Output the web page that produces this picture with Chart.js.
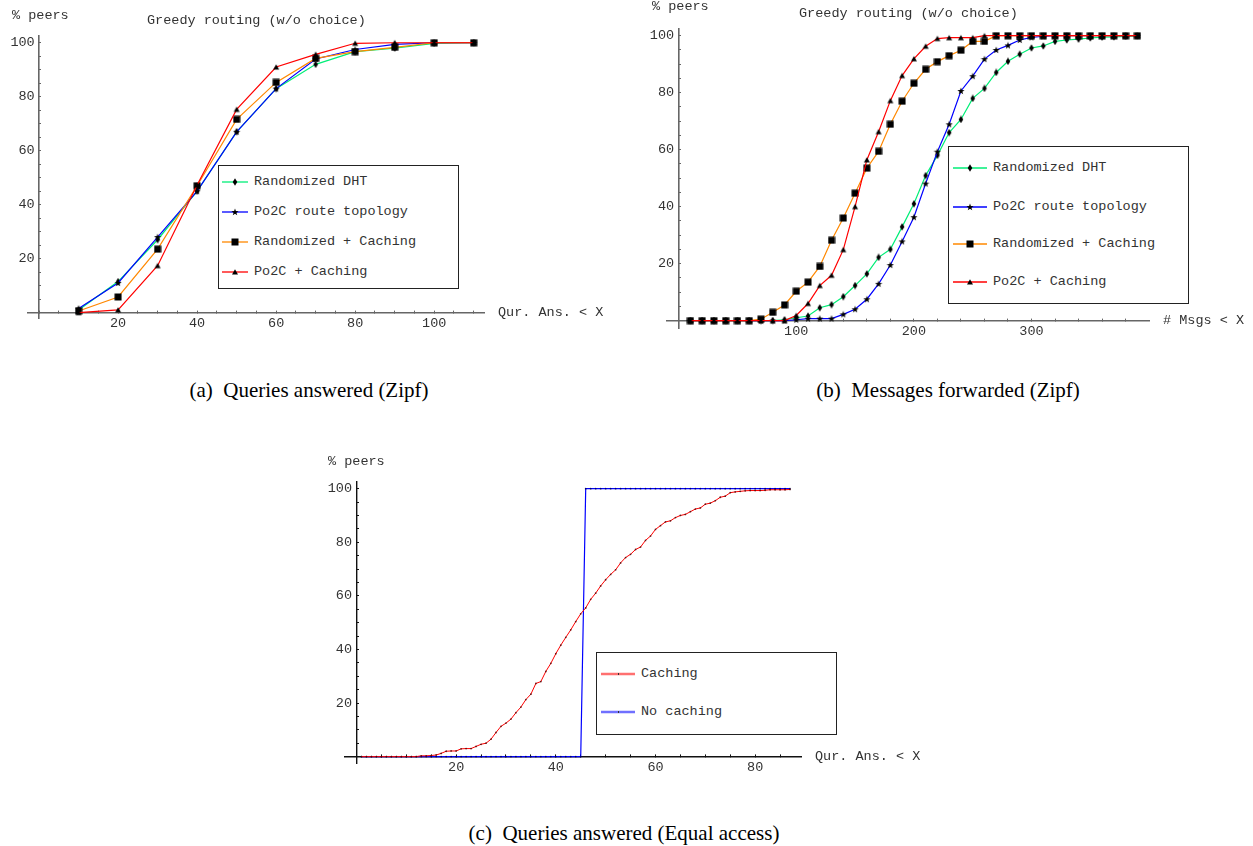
<!DOCTYPE html>
<html>
<head>
<meta charset="utf-8">
<script src="https://cdn.jsdelivr.net/npm/chart.js@4.4.1/dist/chart.umd.min.js"></script>
<style>
  body { margin: 0; background: #fff; width: 1253px; height: 846px; position: relative; overflow: hidden; }
  canvas.plot { position: absolute; }
  .t { position: absolute; font: 13.5px "Liberation Mono", monospace; color: #333; white-space: pre; line-height: 1; transform: translateY(-50%); }
  .cap { position: absolute; font: 21px "Liberation Serif", serif; color: #000; white-space: pre; line-height: 1; transform: translate(-50%, -50%); }
  .lg { position: absolute; border: 1px solid #222; background: #fff; box-sizing: border-box; }
  .lg canvas { position: absolute; }
</style>
</head>
<body>
<canvas id="chartA" class="plot" width="626" height="345" style="left:0;top:0"></canvas>
<canvas id="chartB" class="plot" width="623" height="345" style="left:630px;top:0"></canvas>
<canvas id="chartC" class="plot" width="620" height="330" style="left:320px;top:450px"></canvas>
<script>
// (a) queries answered, Zipf
const xA = [10, 20, 30, 40, 50, 60, 70, 80, 90, 100, 110];
const dhtA = [1, 11.5, 27, 45, 67, 83, 92, 96.7, 98, 99.8, 100];
const po2cA = [1.5, 11, 28, 45, 67, 83, 94, 97.5, 99.4, 100, 100];
const randCacheA = [0.6, 5.8, 23.5, 47, 71.6, 85.3, 94.2, 96.7, 98.3, 100, 100];
const po2cCacheA = [0, 1, 17.4, 47.3, 75.3, 91, 95.7, 99.8, 100, 100, 100];

// (b) messages forwarded, Zipf
const xB = [10, 20, 30, 40, 50, 60, 70, 80, 90, 100, 110, 120, 130, 140, 150, 160, 170, 180, 190, 200,
  210, 220, 230, 240, 250, 260, 270, 280, 290, 300, 310, 320, 330, 340, 350, 360, 370, 380, 390];
const dhtB = [0, 0, 0, 0, 0, 0, 0, 0, 0.3, 1, 1.6, 4.5, 5.6, 8.4, 12.3, 16.4, 22.2, 25, 32.9, 41,
  50.9, 58, 66, 70.6, 78, 81.5, 87.1, 91, 93.5, 95.7, 96.4, 98, 98.5, 98.8, 99.2, 99.5, 99.6, 99.8, 99.9];
const po2cB = [0, 0, 0, 0, 0, 0, 0, 0, 0, 0.3, 0.7, 0.7, 0.7, 2.2, 4, 7.5, 12.9, 19.5, 27.8, 36.3,
  48.1, 59.3, 68.9, 80.6, 85.8, 91.8, 95, 96.6, 98.5, 99.4, 99.8, 100, 100, 100, 100, 100, 100, 100, 100];
const randCacheB = [0, 0, 0, 0, 0, 0, 0.5, 2.9, 5.5, 10.3, 13.5, 19, 28.2, 36, 44.7, 53.5, 59.4, 68.9, 77, 83.3,
  88.2, 90.9, 93, 94.9, 98, 98, 100, 100, 100, 100, 100, 100, 100, 100, 100, 100, 100, 100, 100];
const po2cCacheB = [0, 0, 0, 0, 0, 0, 0, 0, 0, 1.8, 6, 12.3, 15.9, 24.9, 40, 56.4, 66.3, 77.2, 86, 91.9,
  96.3, 99, 99.3, 99.3, 99.3, 100, 100, 100, 100, 100, 100, 100, 100, 100, 100, 100, 100, 100, 100];

// (c) queries answered, equal access
const xC = Array.from({length: 87}, (_, i) => i + 1);
const cachingC = [0, 0, 0, 0, 0, 0, 0, 0, 0, 0, 0, 0,
  0.3, 0.3, 0.4, 0.6, 1.2, 2.0, 2.1, 2.1, 2.9, 3.0, 3.0, 3.8, 4.6, 5.0, 6.5, 9.0, 11.3, 12.5,
  14.0, 16.4, 18.5, 21.3, 23.3, 27.3, 28.0, 31.8, 34.8, 38.4, 41.6, 44.5, 47.3, 50.4, 53.3,
  55.5, 58.7, 61.0, 63.7, 66.0, 68.0, 69.7, 72.3, 74.3, 75.5, 77.3, 78.2, 80.7, 82.3, 84.8,
  86.2, 87.6, 88.0, 89.2, 90.0, 90.4, 91.4, 92.4, 92.8, 94.2, 94.6, 95.5, 96.8, 97.2, 98.5,
  98.8, 99.0, 99.2, 99.3, 99.3, 99.3, 99.4, 99.6, 99.6, 99.6, 99.6, 99.7];
const noCachingC = xC.map(x => (x <= 45 ? 0 : 100));

const names = ['Randomized DHT', 'Po2C route topology', 'Randomized + Caching', 'Po2C + Caching'];
const colors = ['#00ee77', '#0000ff', '#ff8800', '#ff0000'];
const kinds = ['diamond', 'star', 'square', 'triangle'];

function marker(kind) {
  const c = document.createElement('canvas');
  c.width = 8; c.height = 8;
  const g = c.getContext('2d');
  g.fillStyle = '#000';
  g.beginPath();
  if (kind === 'diamond') {
    g.moveTo(4, 0.3); g.lineTo(6.3, 4); g.lineTo(4, 7.7); g.lineTo(1.7, 4);
  } else if (kind === 'square') {
    g.rect(0.5, 0.5, 7, 7);
  } else if (kind === 'triangle') {
    g.moveTo(4, 1.2); g.lineTo(7, 6.5); g.lineTo(1, 6.5);
  } else {
    for (let i = 0; i < 10; i++) {
      const a = -Math.PI / 2 + i * Math.PI / 5;
      const r = i % 2 ? 1.5 : 3.8;
      g.lineTo(4 + r * Math.cos(a), 4.3 + r * Math.sin(a));
    }
  }
  g.closePath();
  g.fill();
  return c;
}
const marks = {};
kinds.forEach(k => { marks[k] = marker(k); });

const tickFont = {family: '"Liberation Mono", monospace', size: 13.5};

function axes(o) {
  const grid = {drawOnChartArea: false, tickLength: -3, tickColor: o.axisColor, tickWidth: 1};
  return {
    x: {
      type: 'linear', min: o.xMin, max: o.xMax, position: {y: 0},
      border: {color: o.axisColor, width: o.axisWidth},
      grid: grid,
      ticks: {
        stepSize: o.xStep, includeBounds: false, autoSkip: false, maxRotation: 0, maxTicksLimit: 500,
        padding: 6, color: '#333', font: tickFont,
        callback: v => (v !== 0 && v % o.xLabel === 0 ? String(v) : '')
      }
    },
    y: {
      type: 'linear', min: o.yMin, max: o.yMax, position: {x: 0},
      border: {color: o.axisColor, width: o.axisWidth},
      grid: grid,
      ticks: {stepSize: 5, includeBounds: false, autoSkip: false, maxTicksLimit: 500, callback: () => ''}
    },
    yl: {
      type: 'linear', min: o.yMin, max: o.yMax, position: {x: o.gap},
      border: {display: false},
      grid: {display: false},
      ticks: {
        stepSize: 20, includeBounds: false, autoSkip: false, color: '#333', font: tickFont,
        callback: v => (v > 0 ? String(v) : '')
      }
    }
  };
}

function routingSets(xs, series) {
  return series.map((ys, i) => ({
    label: names[i],
    data: xs.map((x, j) => ({x: x, y: ys[j]})),
    borderColor: colors[i],
    borderWidth: 1.2,
    pointStyle: marks[kinds[i]],
    pointRadius: 3,
    order: 3 - i
  }));
}

function plot(id, datasets, pad, o) {
  return new Chart(document.getElementById(id), {
    type: 'line',
    data: {datasets: datasets},
    options: {
      responsive: false, animation: false, devicePixelRatio: 1,
      layout: {padding: pad},
      plugins: {legend: {display: false}, tooltip: {enabled: false}},
      elements: {line: {tension: 0}},
      scales: axes(o)
    }
  });
}

plot('chartA', routingSets(xA, [dhtA, po2cA, randCacheA, po2cCacheA]),
  {left: 28, right: 142, top: 36, bottom: 27},
  {xMin: -2.8, xMax: 112.6, xStep: 5, xLabel: 20, yMin: -2, yMax: 102.5, gap: -1.1, axisColor: '#666', axisWidth: 1.6});

plot('chartB', routingSets(xB, [dhtB, po2cB, randCacheB, po2cCacheB]),
  {left: 37, right: 104, top: 28.3, bottom: 17},
  {xMin: -9.9, xMax: 399.9, xStep: 20, xLabel: 100, yMin: -2.6, yMax: 102.6, gap: -3.8, axisColor: '#666', axisWidth: 1.6});

plot('chartC', [
  {label: 'Caching', data: xC.map((x, j) => ({x: x, y: cachingC[j]})), borderColor: '#ff0000', borderWidth: 1,
    pointRadius: 0.9, pointBackgroundColor: 'rgba(70,0,0,0.8)', pointBorderWidth: 0},
  {label: 'No caching', data: xC.map((x, j) => ({x: x, y: noCachingC[j]})), borderColor: '#0000ff', borderWidth: 1.2,
    pointRadius: 0.9, pointBackgroundColor: 'rgba(0,0,70,0.8)', pointBorderWidth: 0}
], {left: 25, right: 139, top: 31.7, bottom: 16.7},
  {xMin: -2.3, xMax: 89.2, xStep: 5, xLabel: 20, yMin: -2.5, yMax: 102.6, gap: -0.9, axisColor: '#111', axisWidth: 1.4});

// text labels
function txt(s, x, y, cls) {
  const d = document.createElement('div');
  d.className = cls || 't';
  d.textContent = s;
  d.style.left = x + 'px';
  d.style.top = y + 'px';
  document.body.appendChild(d);
  return d;
}
txt('% peers', 12, 16);
txt('Greedy routing (w/o choice)', 147, 21);
txt('Qur. Ans. < X', 498, 313);
txt('% peers', 652, 7);
txt('Greedy routing (w/o choice)', 799, 14);
txt('# Msgs < X', 1163, 321);
txt('% peers', 328, 462);
txt('Qur. Ans. < X', 815, 757);
txt('(a)  Queries answered (Zipf)', 309, 390, 'cap');
txt('(b)  Messages forwarded (Zipf)', 948, 390, 'cap');
txt('(c)  Queries answered (Equal access)', 624, 833, 'cap');

// legends
function legend(box, labels, cols, kindList, rows, sample, textX, lineW) {
  const d = document.createElement('div');
  d.className = 'lg';
  d.style.left = box[0] + 'px'; d.style.top = box[1] + 'px';
  d.style.width = box[2] + 'px'; d.style.height = box[3] + 'px';
  labels.forEach((n, i) => {
    const cv = document.createElement('canvas');
    cv.width = sample[1]; cv.height = 12;
    cv.style.left = sample[0] + 'px'; cv.style.top = (rows[i] - 6) + 'px';
    const g = cv.getContext('2d');
    g.strokeStyle = cols[i]; g.lineWidth = lineW;
    g.beginPath(); g.moveTo(0, 6); g.lineTo(sample[1], 6); g.stroke();
    if (kindList) {
      const m = marks[kindList[i]];
      g.drawImage(m, Math.round(sample[1] / 2 - 4), 2);
    } else {
      g.fillStyle = '#333'; g.fillRect(Math.round(sample[1] / 2), 5, 1, 2);
    }
    d.appendChild(cv);
    const t = document.createElement('div');
    t.className = 't';
    t.textContent = n;
    t.style.left = textX + 'px';
    t.style.top = rows[i] + 'px';
    d.appendChild(t);
  });
  document.body.appendChild(d);
}
legend([218, 165, 241, 124], names, colors, kinds, [16, 46, 76, 106], [3, 26], 35, 1.3);
legend([948, 146, 241, 158], names, colors, kinds, [21, 60, 97, 135], [4, 34], 44, 1.3);
legend([596, 652, 241, 83], ['Caching', 'No caching'], ['#ff7070', '#7070ff'], null, [21, 59], [4, 34], 44, 2.5);
</script>
</body>
</html>
